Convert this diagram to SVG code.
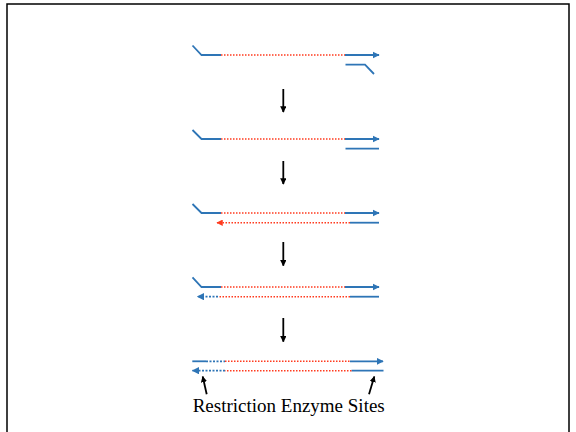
<svg xmlns="http://www.w3.org/2000/svg" width="576" height="432" viewBox="0 0 576 432">
  <style>
    .frame { fill: none; stroke: #000; stroke-width: 1.5; }
    .ds { fill: none; stroke: #2e75b6; stroke-width: 1.8; }
    .dsd { fill: none; stroke: #2e75b6; stroke-width: 1.8; stroke-dasharray: 2 1.5; }
    .rd { fill: none; stroke: #ff3b1f; stroke-width: 1.6; stroke-dasharray: 1.5 1.5; }
    .step { fill: none; stroke: #000; stroke-width: 1.8; }
    .lbl { font-family: "Liberation Serif", "Times New Roman", serif; font-size: 19px; fill: #000; }
  </style>
  <defs>
    <marker id="blueHead" viewBox="0 0 10 10" refX="9" refY="5" markerWidth="4" markerHeight="4" orient="auto">
      <path d="M0,0 L10,5 L0,10 z" fill="#2e75b6"/>
    </marker>
    <marker id="redHead" viewBox="0 0 10 10" refX="9" refY="5" markerWidth="4" markerHeight="4" orient="auto">
      <path d="M0,0 L10,5 L0,10 z" fill="#ff3b1f"/>
    </marker>
    <marker id="blackHead" viewBox="0 0 10 10" refX="9" refY="5" markerWidth="3.5" markerHeight="3.5" orient="auto">
      <path d="M0,0 L10,5 L0,10 z" fill="#000"/>
    </marker>
  </defs>

  <rect width="576" height="432" fill="#fff"/>
  <path class="frame" d="M7,440 V4 H569 V440"/>

  <!-- stage 1: primers annealing -->
  <g id="stage1">
    <polyline class="ds" points="192.5,45.5 201.5,55 221,55"/>
    <line class="rd" x1="221" y1="55" x2="345" y2="55"/>
    <line class="ds" x1="345" y1="55" x2="379" y2="55" marker-end="url(#blueHead)"/>
    <polyline class="ds" points="345.5,64.7 365,64.7 374,74"/>
  </g>

  <!-- stage 2 -->
  <g id="stage2">
    <polyline class="ds" points="192.5,130 201.5,139 221,139"/>
    <line class="rd" x1="221" y1="139" x2="345" y2="139"/>
    <line class="ds" x1="345" y1="139" x2="379" y2="139" marker-end="url(#blueHead)"/>
    <line class="ds" x1="345.5" y1="148.7" x2="379" y2="148.7"/>
  </g>

  <!-- stage 3 -->
  <g id="stage3">
    <polyline class="ds" points="192.5,204 201.5,213 221,213"/>
    <line class="rd" x1="221" y1="213" x2="345" y2="213"/>
    <line class="ds" x1="345" y1="213" x2="379" y2="213" marker-end="url(#blueHead)"/>
    <line class="ds" x1="350" y1="222.7" x2="379" y2="222.7"/>
    <line class="rd" x1="350" y1="222.7" x2="217" y2="222.7" marker-end="url(#redHead)"/>
  </g>

  <!-- stage 4 -->
  <g id="stage4">
    <polyline class="ds" points="192.5,277.3 201.5,287 221,287"/>
    <line class="rd" x1="221" y1="287" x2="345" y2="287"/>
    <line class="ds" x1="345" y1="287" x2="379" y2="287" marker-end="url(#blueHead)"/>
    <line class="ds" x1="350" y1="296.7" x2="379" y2="296.7"/>
    <line class="rd" x1="350" y1="296.7" x2="218" y2="296.7"/>
    <line class="dsd" x1="218" y1="296.7" x2="197.5" y2="296.7" marker-end="url(#blueHead)"/>
  </g>

  <!-- stage 5: product with restriction sites -->
  <g id="stage5">
    <line class="ds" x1="192.3" y1="361.3" x2="206" y2="361.3"/>
    <line class="dsd" x1="206" y1="361.3" x2="225" y2="361.3"/>
    <line class="rd" x1="225" y1="361.3" x2="350" y2="361.3"/>
    <line class="ds" x1="350" y1="361.3" x2="383" y2="361.3" marker-end="url(#blueHead)"/>
    <line class="ds" x1="351.5" y1="370.7" x2="383.5" y2="370.7"/>
    <line class="rd" x1="351.5" y1="370.7" x2="225" y2="370.7"/>
    <line class="dsd" x1="225" y1="370.7" x2="192.5" y2="370.7" marker-end="url(#blueHead)"/>
  </g>

  <g id="label">
    <text class="lbl" x="288.7" y="411.7" text-anchor="middle">Restriction Enzyme Sites</text>
  </g>

  <!-- step arrows and site pointers -->
  <g id="connectors">
    <line class="step" x1="283.3" y1="89" x2="283.3" y2="112" marker-end="url(#blackHead)"/>
    <line class="step" x1="283.3" y1="161" x2="283.3" y2="184" marker-end="url(#blackHead)"/>
    <line class="step" x1="283.3" y1="242" x2="283.3" y2="265.7" marker-end="url(#blackHead)"/>
    <line class="step" x1="283.3" y1="318" x2="283.3" y2="341.7" marker-end="url(#blackHead)"/>
    <line class="step" x1="206.7" y1="394.3" x2="202.7" y2="376.5" marker-end="url(#blackHead)"/>
    <line class="step" x1="369" y1="394.3" x2="374.3" y2="376.5" marker-end="url(#blackHead)"/>
  </g>
</svg>
